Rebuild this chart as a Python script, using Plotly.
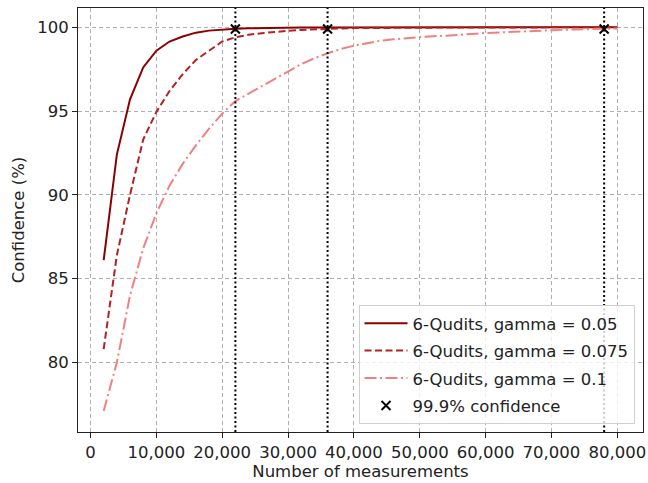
import plotly.graph_objects as go

# Data
measurements = list(range(2000, 80001, 2000))

conf_g005 = [86.1, 92.4, 95.7, 97.6, 98.6, 99.15, 99.45, 99.68, 99.8, 99.87,
             99.91, 99.94, 99.96, 99.97, 99.98, 99.985, 99.99, 99.99, 99.992, 99.994,
             99.995, 99.996, 99.997, 99.997, 99.998, 99.998, 99.998, 99.999, 99.999, 99.999,
             99.999, 99.999, 100.0, 100.0, 100.0, 100.0, 100.0, 100.0, 100.0, 100.0]

conf_g0075 = [80.8, 86.4, 90.0, 93.3, 94.95, 96.2, 97.2, 98.05, 98.6, 99.15,
              99.4, 99.55, 99.65, 99.73, 99.79, 99.84, 99.88, 99.91, 99.93, 99.95,
              99.96, 99.965, 99.97, 99.975, 99.98, 99.983, 99.986, 99.988, 99.99, 99.991,
              99.992, 99.993, 99.994, 99.995, 99.996, 99.996, 99.997, 99.997, 99.998, 99.998]

conf_g01 = [77.1, 80.0, 84.0, 86.8, 88.9, 90.55, 91.85, 92.95, 93.95, 94.85,
            95.6, 96.05, 96.5, 96.95, 97.4, 97.8, 98.15, 98.45, 98.7, 98.9,
            99.05, 99.2, 99.28, 99.35, 99.42, 99.47, 99.5, 99.53, 99.6, 99.66,
            99.7, 99.72, 99.76, 99.8, 99.82, 99.85, 99.88, 99.89, 99.91, 99.93]

threshold_x = [22000, 36000, 78000]
threshold_y = [99.9, 99.9, 99.9]

x_ticks = [0, 10000, 20000, 30000, 40000, 50000, 60000, 70000, 80000]
y_ticks = [80, 85, 90, 95, 100]

FONT = "DejaVu Sans"
FS = 16.5

fig = go.Figure()

fig.add_trace(go.Scatter(
    x=measurements, y=conf_g005, mode="lines",
    name="6-Qudits, gamma = 0.05", legendgroup="a",
    line=dict(color="#8b0000", width=2),
))
fig.add_trace(go.Scatter(
    x=measurements, y=conf_g0075, mode="lines",
    name="6-Qudits, gamma = 0.075", legendgroup="b",
    line=dict(color="#b22222", width=2, dash="7px,3.5px"),
))
fig.add_trace(go.Scatter(
    x=measurements, y=conf_g01, mode="lines",
    name="6-Qudits, gamma = 0.1", legendgroup="c",
    line=dict(color="#f08080", width=2, dash="12px,3.5px,2px,3.5px"),
))

for xv in threshold_x:
    fig.add_vline(x=xv, line=dict(color="black", width=2, dash="2px,2.5px"))

fig.add_trace(go.Scatter(
    x=threshold_x, y=threshold_y, mode="markers",
    name="99.9% confidence", legendgroup="d",
    marker=dict(symbol="x-thin-open", size=9, color="black",
                line=dict(color="black", width=2)),
))

axis_common = dict(
    showline=True, linecolor="#222222", linewidth=1, mirror=True,
    ticks="outside", ticklen=5, tickcolor="#222222", tickwidth=1,
    showgrid=True, gridcolor="#b0b0b0", gridwidth=1, griddash="4px,3px",
    zeroline=False, ticklabeloverflow="allow",
    tickfont=dict(family=FONT, size=FS, color="#222222"),
)

fig.update_xaxes(
    range=[-1900, 83900], tickvals=x_ticks, tickformat=",d",
    title=dict(text="Number of measurements", font=dict(family=FONT, size=FS, color="#222222"), standoff=4),
    **axis_common,
)
fig.update_yaxes(
    range=[75.85, 101.15], tickvals=y_ticks,
    title=dict(text="Confidence (%)", font=dict(family=FONT, size=FS, color="#222222"), standoff=8),
    **axis_common,
)

fig.update_layout(
    width=648, height=483,
    margin=dict(l=78, r=2, t=8, b=51),
    plot_bgcolor="white", paper_bgcolor="white",
    font=dict(family=FONT, size=FS, color="#222222"),
    legend=dict(
        x=0.985, y=0.019, xanchor="right", yanchor="bottom",
        bgcolor="rgba(255,255,255,0.8)", bordercolor="#d0d0d0", borderwidth=1,
        font=dict(family=FONT, size=FS, color="#222222"),
        tracegroupgap=3, itemwidth=43,
    ),
    showlegend=True,
)

fig.write_html(
    "out.html",
    config={"displayModeBar": False},
    post_script="document.body.style.margin='0';document.body.style.overflow='hidden';",
)
